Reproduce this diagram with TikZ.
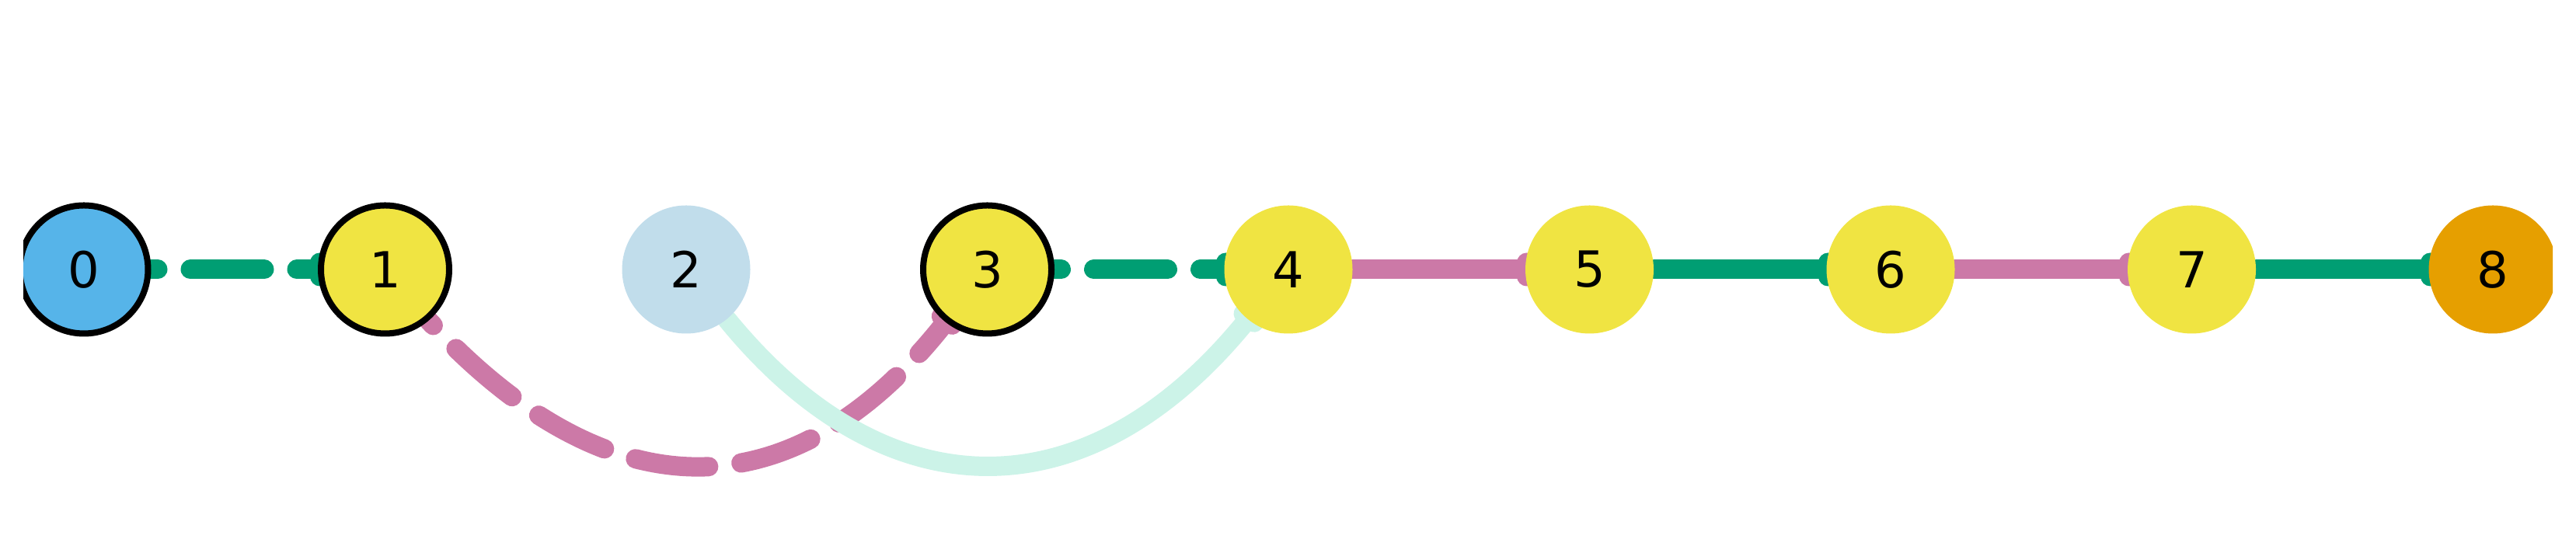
\documentclass[tikz,border=0pt]{standalone}
\usepackage{fontspec}
\setmainfont{DejaVu Sans}
\usetikzlibrary{arrows.meta}
\pgfdeclarelayer{bg}
\pgfsetlayers{bg,main}
\definecolor{cblue}{HTML}{56B4E9}
\definecolor{cyellow}{HTML}{F0E442}
\definecolor{clight}{HTML}{C1DDEB}
\definecolor{corange}{HTML}{E69F00}
\definecolor{cgreen}{HTML}{009E73}
\definecolor{cpink}{HTML}{CC79A7}
\definecolor{cmint}{HTML}{CCF3E8}
\begin{document}
\begin{tikzpicture}[>={Bar[width=0.18cm,round]},
		vertex/.style={circle,minimum size=1.65cm,inner sep=0pt,font=\fontsize{18.2pt}{22pt}\selectfont},
		ring/.style={draw=black,line width=0.08cm},
		noring/.style={},
		link/.style={line width=0.25cm,line cap=round,line join=round,->,shorten >=-0.15cm},
		dashlink/.style={dash pattern=on 0.95cm off 0.42cm}]
	\def\dx{3.875} % khoang cach giua hai dinh
	\def\yc{3.47} % tung do cac dinh
	\useasboundingbox (0,0) rectangle (33.15,6.94);
	\clip (0.30,0) rectangle (32.85,6.94);
	% ve cac dinh
	\foreach \i/\c/\s in {0/cblue/ring,1/cyellow/ring,2/clight/noring,3/cyellow/ring,4/cyellow/noring,5/cyellow/noring,6/cyellow/noring,7/cyellow/noring,8/corange/noring}
	\node[vertex,\s,fill=\c] (n\i) at ({1.08+\dx*\i},\yc) {\i};
	\begin{pgfonlayer}{bg}
		% canh thang
		\draw[link,dashlink,cgreen] (n0.center)--(n1);
		\draw[link,dashlink,cgreen] (n3.center)--(n4);
		\draw[link,cpink] (n4)--(n5);
		\draw[link,cgreen] (n5)--(n6);
		\draw[link,cpink] (n6)--(n7);
		\draw[link,cgreen] (n7)--(n8);
		% canh cong
		\draw[link,dashlink,cpink] (n1.center) .. controls (7.54,0.21) and (10.12,0.21) .. (n3);
		\draw[link,cmint] (n2) .. controls (11.41,0.31) and (14.00,0.31) .. (n4);
	\end{pgfonlayer}
\end{tikzpicture}
\end{document}
